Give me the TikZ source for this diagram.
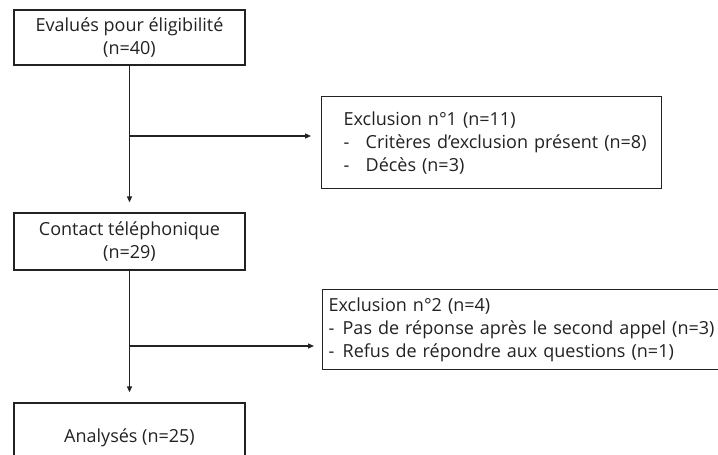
\documentclass[tikz,border=0pt]{standalone}
\usepackage{fontspec}
\setmainfont{Open Sans}
\usetikzlibrary{arrows.meta}
\definecolor{ink}{HTML}{222222}
\tikzset{
  box/.style={draw=ink, line width=1.3pt, text=ink, font=\fontsize{18}{23}\selectfont, inner sep=0pt},
  arr/.style={draw=ink, line width=1.3pt, -{Triangle[length=6pt,width=5pt]}},
  ln/.style={draw=ink, line width=1.3pt}
}
\newcommand{\dashitem}[2]{\mbox{\makebox[#1][l]{-}#2}}
\begin{document}
\begin{tikzpicture}[x=1pt,y=-1pt]
\useasboundingbox (0,0) rectangle (718,455);
\clip (0,0) rectangle (718,455);
\fill[white] (0,0) rectangle (718,455);
% main boxes
\node[box, minimum width=231pt, minimum height=55pt, align=center] (b1) at (129.5,37.5) {Evalués pour éligibilité\\(n=40)};
\node[box, minimum width=231pt, minimum height=57pt, align=center] (b2) at (129.5,241.5) {Contact téléphonique\\(n=29)};
\node[box, minimum width=231pt, minimum height=70pt, align=center] (b3) at (129.5,438) {Analysés (n=25)};
% exclusion boxes
\node[box, anchor=north west, minimum width=340pt, minimum height=92pt, text width=296pt, inner xsep=22pt, align=left] (e1) at (321,96)
  {\mbox{Exclusion n°1 (n=11)}\\\dashitem{22pt}{Critères d’exclusion présent (n=8)}\\\dashitem{22pt}{Décès (n=3)}};
\node[box, anchor=north west, minimum width=420pt, minimum height=80pt, text width=408pt, inner xsep=6pt, align=left] (e2) at (322,289)
  {\mbox{Exclusion n°2 (n=4)}\\\dashitem{14pt}{Pas de réponse après le second appel (n=3)}\\\dashitem{14pt}{Refus de répondre aux questions (n=1)}};
% connectors
\coordinate (j1) at (130,136);
\coordinate (j2) at (130,346);
\draw[arr, shorten >=10pt] (b1.south) -- (b2.north);
\draw[arr, shorten >=10pt] (b2.south) -- (b3.north);
\draw[arr, shorten >=10pt] (j1) -- (e1.west |- j1);
\draw[arr, shorten >=8pt] (j2) -- (e2.west |- j2);
\end{tikzpicture}
\end{document}
